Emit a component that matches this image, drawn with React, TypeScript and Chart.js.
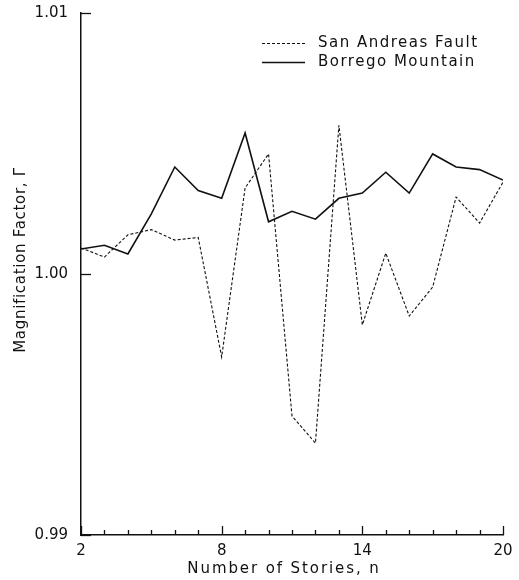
import React, { useEffect, useRef } from "react";
import { Chart, registerables } from "chart.js";

Chart.register(...registerables);

const stories = [2, 3, 4, 5, 6, 7, 8, 9, 10, 11, 12, 13, 14, 15, 16, 17, 18, 19, 20];
const sanAndreas = [
  1.001, 1.00065, 1.0015, 1.0017, 1.0013, 1.0014, 0.99682, 1.0033, 1.0046, 0.99456,
  0.99352, 1.0057, 0.99805, 1.0008, 0.99839, 0.9995, 1.00295, 1.00195, 1.00352,
];
const borrego = [
  1.00096, 1.0011, 1.00077, 1.0023, 1.0041, 1.0032, 1.0029, 1.0054, 1.002, 1.0024,
  1.0021, 1.0029, 1.0031, 1.0039, 1.0031, 1.0046, 1.0041, 1.004, 1.0036,
];
const seriesLabels = ["San Andreas Fault", "Borrego Mountain"];
const yTickValues = [0.99, 1.0, 1.01];
const xLabeledTicks = [2, 8, 14, 20];
const xTitle = "Number of Stories, n";
const yTitle = "Magnification Factor, \u0393";

const INK = "#111111";
const FONT = "DejaVu Sans";

const decorPlugin = {
  id: "decor",
  afterDraw(chart: any) {
    const { ctx, chartArea, scales } = chart;
    const xs = scales.x;
    const ys = scales.y;
    ctx.save();
    ctx.strokeStyle = INK;
    ctx.lineWidth = 1.3;
    ctx.setLineDash([]);
    // inward x ticks
    for (let n = stories[0]; n <= stories[stories.length - 1]; n++) {
      const px = Math.round(xs.getPixelForValue(n)) + 0.5;
      const len = xLabeledTicks.includes(n) ? 9 : 5;
      ctx.beginPath();
      ctx.moveTo(px, chartArea.bottom);
      ctx.lineTo(px, chartArea.bottom - len);
      ctx.stroke();
    }
    // inward y ticks
    for (const v of yTickValues) {
      const py = Math.round(ys.getPixelForValue(v)) + 0.5;
      ctx.beginPath();
      ctx.moveTo(chartArea.left, py);
      ctx.lineTo(chartArea.left + 10, py);
      ctx.stroke();
    }

    // legend
    const legendX0 = 262;
    const legendX1 = 305;
    const legendTextX = 318;
    const legendYs = [43, 62];
    ctx.font = `15px "${FONT}"`;
    (ctx as any).letterSpacing = "1.5px";
    ctx.fillStyle = INK;
    ctx.textBaseline = "middle";
    ctx.textAlign = "left";
    chart.data.datasets.forEach((ds: any, i: number) => {
      const yy = legendYs[i];
      ctx.save();
      ctx.lineWidth = ds.borderWidth;
      ctx.setLineDash(ds.borderDash || []);
      ctx.beginPath();
      ctx.moveTo(legendX0, yy + 0.5);
      ctx.lineTo(legendX1, yy + 0.5);
      ctx.stroke();
      ctx.restore();
      ctx.fillText(ds.label, legendTextX, yy);
    });

    // axis titles
    ctx.textAlign = "center";
    (ctx as any).letterSpacing = "1.9px";
    ctx.fillText(xTitle, 284, 569);
    (ctx as any).letterSpacing = "0.7px";
    ctx.save();
    ctx.translate(21, 260);
    ctx.rotate(-Math.PI / 2);
    ctx.fillText(yTitle, 0, 0);
    ctx.restore();
    (ctx as any).letterSpacing = "0px";
    ctx.restore();
  },
};

export default function App() {
  const canvasRef = useRef<HTMLCanvasElement | null>(null);

  useEffect(() => {
    document.body.style.margin = "0";
    const canvas = canvasRef.current;
    if (!canvas) return;
    const chart = new Chart(canvas, {
      type: "line",
      data: {
        datasets: [
          {
            label: seriesLabels[0],
            data: stories.map((n, i) => ({ x: n, y: sanAndreas[i] })),
            borderColor: INK,
            borderWidth: 1.1,
            borderDash: [3, 2],
            pointRadius: 0,
            tension: 0,
            fill: false,
          },
          {
            label: seriesLabels[1],
            data: stories.map((n, i) => ({ x: n, y: borrego[i] })),
            borderColor: INK,
            borderWidth: 1.6,
            pointRadius: 0,
            tension: 0,
            fill: false,
          },
        ],
      },
      options: {
        responsive: false,
        animation: false,
        devicePixelRatio: 1,
        layout: { padding: { left: 0, right: 16, top: 13, bottom: 0 } },
        plugins: {
          legend: { display: false },
          tooltip: { enabled: false },
        },
        scales: {
          x: {
            type: "linear",
            min: 2,
            max: 20,
            grid: { display: false, drawTicks: false },
            border: { display: true, color: INK, width: 1.5 },
            ticks: {
              stepSize: 1,
              autoSkip: false,
              maxRotation: 0,
              padding: 7,
              color: INK,
              font: { family: FONT, size: 15 },
              callback: (v: any) => (xLabeledTicks.includes(Number(v)) ? String(v) : ""),
            },
            afterFit: (scale: any) => {
              scale.height = 45;
              scale.paddingLeft = 0;
              scale.paddingRight = 0;
            },
          },
          y: {
            type: "linear",
            min: 0.99,
            max: 1.01,
            grid: { display: false, drawTicks: false },
            border: { display: true, color: INK, width: 1.5 },
            ticks: {
              stepSize: 0.01,
              padding: 13,
              color: INK,
              font: { family: FONT, size: 15 },
              callback: (v: any) => Number(v).toFixed(2),
            },
            afterFit: (scale: any) => {
              scale.width = 81;
              scale.paddingTop = 0;
              scale.paddingBottom = 0;
            },
          },
        },
      },
      plugins: [decorPlugin],
    });
    return () => chart.destroy();
  }, []);

  return (
    <div style={{ width: 519, height: 580, background: "#fff" }}>
      <canvas ref={canvasRef} width={519} height={580} />
    </div>
  );
}
